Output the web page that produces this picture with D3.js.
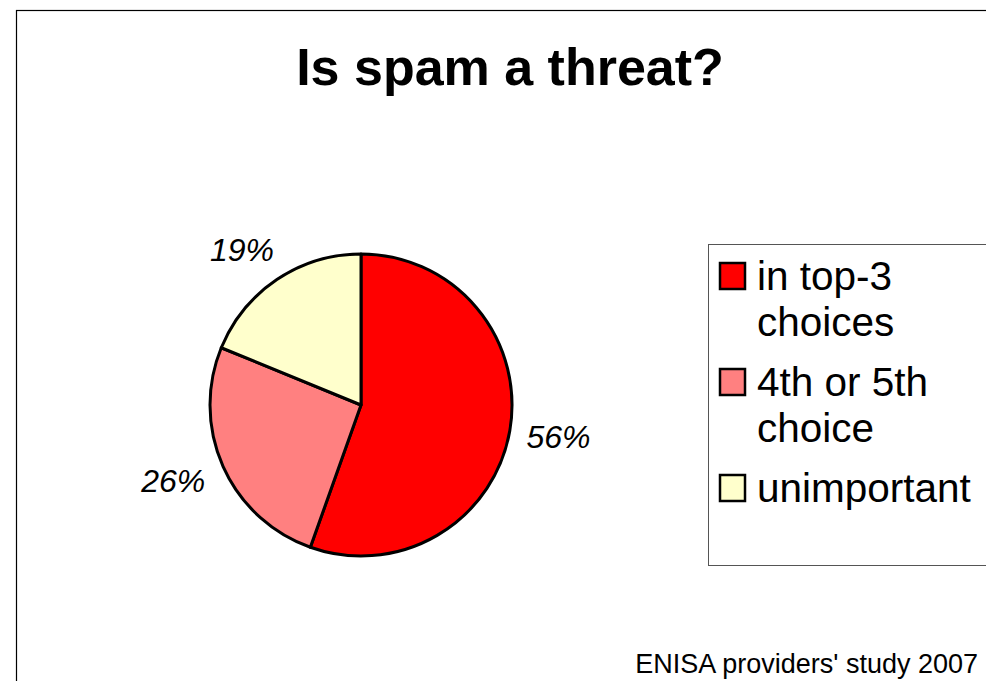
<!DOCTYPE html>
<html>
<head>
<meta charset="utf-8">
<script src="https://cdn.jsdelivr.net/npm/d3@7"></script>
<style>
  body { margin: 0; background: #fff; }
  text { font-family: "Liberation Sans", Arial, sans-serif; }
</style>
</head>
<body>
<div id="chart"></div>
<script>
// Data
const categories = ["in top-3 choices", "4th or 5th choice", "unimportant"];
const legendLines = [["in top-3", "choices"], ["4th or 5th", "choice"], ["unimportant"]];
const values = [56, 26, 19];
const colors = ["#ff0000", "#ff8080", "#ffffcc"];

const W = 986, H = 681;

const svg = d3.select("#chart")
  .append("svg")
    .attr("width", W)
    .attr("height", H);

// outer chart frame (cut by the window on the right and bottom)
svg.append("rect")
  .attr("x", 16.5).attr("y", 10.5)
  .attr("width", 1000).attr("height", 700)
  .attr("fill", "#fff")
  .attr("stroke", "#000")
  .attr("stroke-width", 1.2);

// title
svg.append("text")
  .attr("x", 510).attr("y", 85)
  .attr("text-anchor", "middle")
  .style("font-size", "52px")
  .style("font-weight", "bold")
  .text("Is spam a threat?");

// pie
const cx = 361, cy = 405, r = 151;
const pie = d3.pie().sort(null).value(d => d.value);
const arcs = pie(values.map((v, i) => ({ name: categories[i], value: v, color: colors[i] })));
const arc = d3.arc().innerRadius(0).outerRadius(r);

const g = svg.append("g").attr("transform", `translate(${cx},${cy})`);

g.selectAll("path")
  .data(arcs)
  .enter()
  .append("path")
    .attr("d", arc)
    .attr("fill", d => d.data.color)
    .attr("stroke", "#000")
    .attr("stroke-width", 3)
    .attr("stroke-linejoin", "round");

// labels sit just outside the rim, pushed out by half their box
const labelArc = d3.arc().innerRadius(165).outerRadius(165);
g.selectAll("text.label")
  .data(arcs)
  .enter()
  .append("text")
    .attr("class", "label")
    .attr("text-anchor", "middle")
    .attr("dy", "0.35em")
    .style("font-size", "32px")
    .style("font-style", "italic")
    .text(d => d.data.value + "%")
    .attr("transform", function(d) {
      const [px, py] = labelArc.centroid(d);
      const b = this.getBBox();
      const len = Math.hypot(px, py);
      const ux = px / len, uy = py / len;
      return `translate(${px + ux * b.width / 2 + ux * Math.abs(uy) * 20},${py + uy * b.height / 2 + uy * 4})`;
    });

// legend
const legend = svg.append("g");
legend.append("rect")
  .attr("x", 708.5).attr("y", 244.5)
  .attr("width", 400).attr("height", 321)
  .attr("fill", "#fff")
  .attr("stroke", "#555")
  .attr("stroke-width", 1);

const lineH = 46, itemGap = 14;
let yBase = 290;
legendLines.forEach((lines, i) => {
  legend.append("rect")
    .attr("x", 720).attr("y", yBase - 27)
    .attr("width", 25).attr("height", 26)
    .attr("fill", colors[i])
    .attr("stroke", "#000")
    .attr("stroke-width", 2.5);
  const t = legend.append("text")
    .attr("x", 757).attr("y", yBase)
    .style("font-size", "40.5px");
  lines.forEach((l, j) => {
    t.append("tspan")
      .attr("x", 757)
      .attr("y", yBase + j * lineH)
      .text(l);
  });
  yBase += lines.length * lineH + itemGap;
});

// source note
svg.append("text")
  .attr("x", 978).attr("y", 673)
  .attr("text-anchor", "end")
  .style("font-size", "27px")
  .text("ENISA providers' study 2007");
</script>
</body>
</html>
